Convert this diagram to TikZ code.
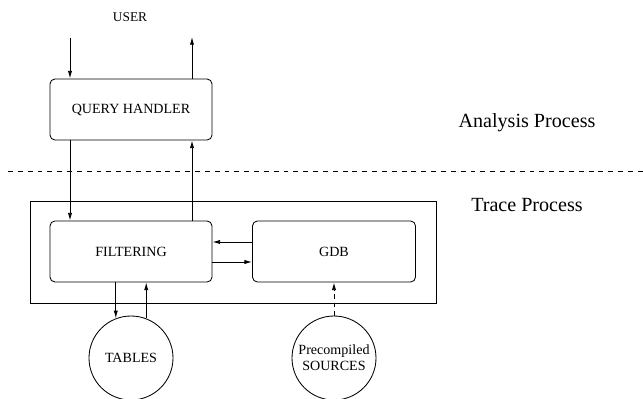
\documentclass[tikz,border=0pt]{standalone}
\usepackage{fontspec}
\setmainfont{Liberation Serif}
\usetikzlibrary{arrows.meta}
\tikzset{
  procbox/.style={draw, rounded corners=3.5pt, minimum width=4.05cm, minimum height=1.525cm, inner sep=0pt, font=\fontsize{10}{12}\selectfont},
  store/.style={draw, circle, minimum size=2.1cm, inner sep=0pt, align=center, font=\fontsize{10}{11.5}\selectfont},
  arr/.style={-{Latex[length=5.5pt,width=3pt]}},
  sepline/.style={dash pattern=on 3.5pt off 3.5pt},
}

\begin{document}
\begin{tikzpicture}[line width=0.6pt]%
\useasboundingbox (0, 0) rectangle (16.075, 9.950);%
\node[font=\fontsize{9.5}{11}\selectfont] (user) at (3.250, 9.525) {USER};%
\node[procbox] (qh) at (3.275, 7.2125) {QUERY HANDLER};%
\draw[sepline] (0.200, 5.675) -- (16.075, 5.675);%
\node[font=\fontsize{14.3}{17}\selectfont] (analysis) at (13.175, 6.875) {Analysis Process};%
\node[font=\fontsize{14.3}{17}\selectfont] (trace) at (13.175, 4.825) {Trace Process};%
\draw (0.750, 2.375) rectangle (10.900, 4.925);%
\node[procbox] (filt) at (3.275, 3.6625) {FILTERING};%
\node[procbox, minimum width=4.075cm] (gdb) at (8.350, 3.6625) {GDB};%
\node[store] (tab) at (3.275, 1.000) {TABLES};%
\node[store] (src) at (8.350, 1.000) {Precompiled\\SOURCES};%
\coordinate (userin) at (1.750, 9.000);%
\coordinate (userout) at (4.800, 9.025);%
\draw[arr] (userin) -- (userin |- qh.north);%
\draw[arr] (userout |- qh.north) -- (userout);%
\draw[arr] (qh.south -| userin) -- (filt.north -| userin);%
\draw[arr] (filt.north -| userout) -- (qh.south -| userout);%
\draw[arr] ([yshift=0.2375cm]gdb.west) -- ([yshift=0.2375cm]filt.east);%
\draw[arr] ([yshift=-0.2625cm]filt.east) -- ([yshift=-0.2625cm]gdb.west);%
\draw[arr] (filt.south -| tab.111) -- (tab.111);%
\draw[arr] (tab.69) -- (filt.south -| tab.69);%
\draw[arr, dash pattern=on 3pt off 3pt] (src.north) -- (gdb.south);%
\end{tikzpicture}
\end{document}
